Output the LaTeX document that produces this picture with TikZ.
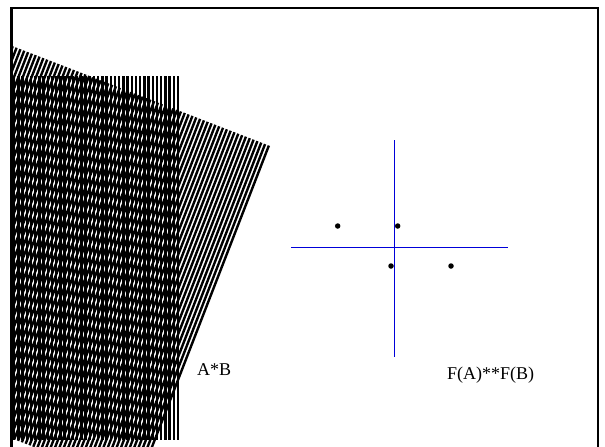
\documentclass[tikz,border=0pt]{standalone}
\usepackage{fontspec}
\setmainfont{Liberation Serif}

\begin{document}
\begin{tikzpicture}[x=1pt, y=-1pt,
    grating/.style={line width=2.4pt, black},
    axis/.style={blue!85!black, line width=1.1pt},
    spot/.style={circle, fill=black, inner sep=0pt, minimum size=5.5pt},
    caption/.style={anchor=west, inner sep=0pt, font=\fontsize{18}{21}\selectfont}]
    \useasboundingbox (0,0) rectangle (605,447);

    % Draw gratings
    \begin{scope}
        \clip (12.5,9) rectangle (597,447);
        \foreach \k in {0,...,40}
            \draw[grating] (178-4.2*\k,76) -- (178-4.2*\k,440);
        \begin{scope}[shift={(270,146)}, rotate=-21.2]
            \foreach \k in {0,...,74}
                \draw[grating] (-1.2-4.1*\k,0) -- (-1.2-4.1*\k,366);
        \end{scope}
    \end{scope}

    % Draw frame
    \draw[line width=2.5pt] (11.5,8) rectangle (598,452);

    % Draw axes
    \coordinate (xl) at (291,247.5);
    \coordinate (xr) at (508,247.5);
    \coordinate (yt) at (394.5,140);
    \coordinate (yb) at (394.5,357);
    \draw[axis] (xl) -- (xr);
    \draw[axis] (yt) -- (yb);

    % Draw spots
    \node[spot] (s1) at (337.7,226) {};
    \node[spot] (s2) at (397.7,226) {};
    \node[spot] (s3) at (391,266) {};
    \node[spot] (s4) at (451,266) {};

    % Labels
    \node[caption] (ab) at (197,370) {A*B};
    \node[caption] (fab) at (447,375) {F(A)**F(B)};
\end{tikzpicture}
\end{document}
